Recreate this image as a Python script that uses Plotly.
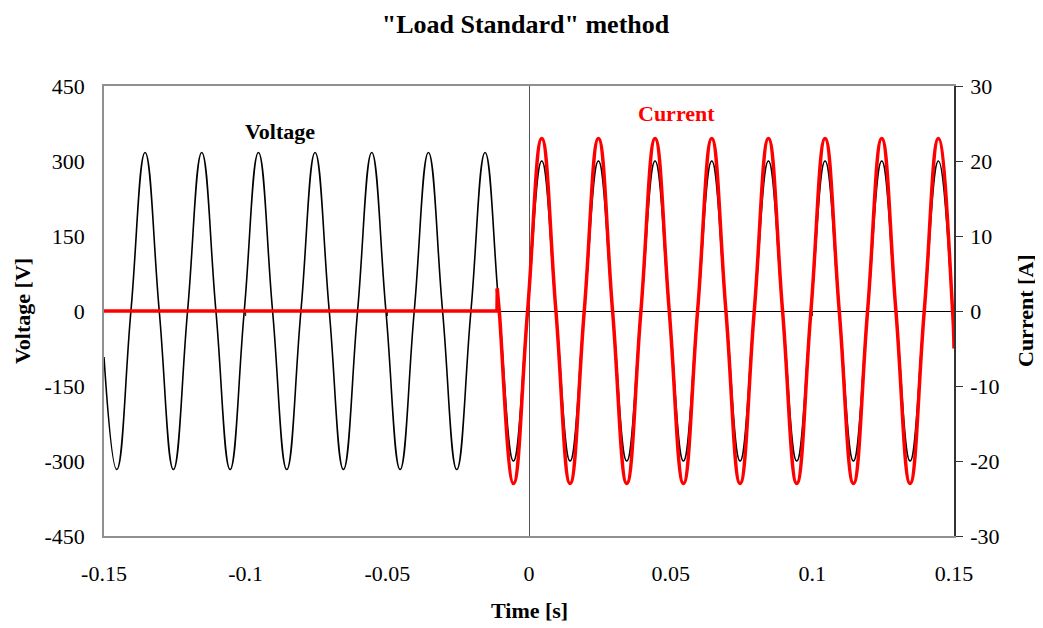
import plotly.graph_objects as go

# ---- data (key points of each waveform) ----
# Voltage [V]: start, then troughs / zero crossings / peaks every quarter period
voltage_t = [-0.15, -0.1455, -0.1405, -0.1355, -0.1305, -0.1255, -0.1205, -0.1155, -0.1105,
             -0.1055, -0.1005, -0.0955, -0.0905, -0.0855, -0.0805, -0.0755, -0.0705,
             -0.0655, -0.0605, -0.0555, -0.0505, -0.0455, -0.0405, -0.0355, -0.0305,
             -0.0255, -0.0205, -0.0155, -0.0105, -0.0055, -0.0005, 0.0045, 0.0095,
             0.0145, 0.0195, 0.0245, 0.0295, 0.0345, 0.0395, 0.0445, 0.0495,
             0.0545, 0.0595, 0.0645, 0.0695, 0.0745, 0.0795, 0.0845, 0.0895,
             0.0945, 0.0995, 0.1045, 0.1095, 0.1145, 0.1195, 0.1245, 0.1295,
             0.1345, 0.1395, 0.1445, 0.1495, 0.15]
voltage_v = [-92, -317, 0, 317, 0, -317, 0, 317, 0,
             -317, 0, 317, 0, -317, 0, 317, 0,
             -317, 0, 317, 0, -317, 0, 317, 0,
             -317, 0, 317, 0, -300, 0, 300, 0,
             -300, 0, 300, 0, -300, 0, 300, 0,
             -300, 0, 300, 0, -300, 0, 300, 0,
             -300, 0, 300, 0, -300, 0, 300, 0,
             -300, 0, 300, 0, -55]

# Current [A]: off period (with switch-on spike), then the on period
current_off_t = [-0.15, -0.0113, -0.0112]
current_off_a = [0, 0, 3]
current_on_t = [-0.0112, -0.0105, -0.0055, -0.0005, 0.0045, 0.0095,
                0.0145, 0.0195, 0.0245, 0.0295, 0.0345, 0.0395, 0.0445, 0.0495,
                0.0545, 0.0595, 0.0645, 0.0695, 0.0745, 0.0795, 0.0845, 0.0895,
                0.0945, 0.0995, 0.1045, 0.1095, 0.1145, 0.1195, 0.1245, 0.1295,
                0.1345, 0.1395, 0.1445, 0.1495, 0.15]
current_on_a = [3, 0, -23, 0, 23, 0,
                -23, 0, 23, 0, -23, 0, 23, 0,
                -23, 0, 23, 0, -23, 0, 23, 0,
                -23, 0, 23, 0, -23, 0, 23, 0,
                -23, 0, 23, 0, -5]

x_ticks = [-0.15, -0.1, -0.05, 0, 0.05, 0.1, 0.15]
x_tick_text = ["-0.15", "-0.1", "-0.05", "0", "0.05", "0.1", "0.15"]
v_ticks = [-450, -300, -150, 0, 150, 300, 450]
v_tick_text = ["-450", "-300", "-150", "0", "150", "300", "450"]
a_ticks = [-30, -20, -10, 0, 10, 20, 30]
a_tick_text = ["-30", "-20", "-10", "0", "10", "20", "30"]

FONT = "Liberation Serif, Times New Roman, serif"

fig = go.Figure()
fig.add_trace(go.Scatter(x=voltage_t, y=voltage_v, mode="lines",
                         line=dict(color="black", width=1.6, shape="spline", smoothing=1.3),
                         name="Voltage", showlegend=False, yaxis="y"))
fig.add_trace(go.Scatter(x=current_off_t, y=current_off_a, mode="lines",
                         line=dict(color="#ff0000", width=3.5),
                         name="Current", showlegend=False, yaxis="y2"))
fig.add_trace(go.Scatter(x=current_on_t, y=current_on_a, mode="lines",
                         line=dict(color="#ff0000", width=3.5, shape="spline", smoothing=1.3),
                         name="Current", showlegend=False, yaxis="y2"))

# small tick marks of the time axis drawn where it crosses V = 0
shapes = []
for t in x_ticks[1:-1]:
    shapes.append(dict(type="line", xref="x", yref="y", x0=t, x1=t, y0=0, y1=-10,
                       line=dict(color="black", width=1), layer="below"))

# the page adds an 8 px body margin, so the figure is offset by 8 px
fig.update_layout(
    width=1035, height=620,
    margin=dict(l=96, r=89, t=78, b=92, autoexpand=False),
    paper_bgcolor="white", plot_bgcolor="white",
    font=dict(family=FONT, size=22, color="black"),
    title=dict(text='<b>"Load Standard" method</b>', x=0.5, xanchor="center",
               y=1 - 16 / 620, yanchor="middle",
               font=dict(family=FONT, size=26, color="black")),
    xaxis=dict(range=[-0.15, 0.15], tickvals=x_ticks, ticktext=x_tick_text,
               showgrid=False, zeroline=True, zerolinecolor="#555555", zerolinewidth=1,
               showline=True, linecolor="#909090", linewidth=1.5, mirror=True,
               ticks="", ticklabelstandoff=17, automargin=False),
    yaxis=dict(range=[-450, 450], tickvals=v_ticks, ticktext=v_tick_text, showgrid=False,
               zeroline=True, zerolinecolor="black", zerolinewidth=1,
               showline=True, linecolor="#909090", linewidth=1.5,
               ticks="", ticklabelstandoff=13, automargin=False),
    yaxis2=dict(range=[-30, 30], tickvals=a_ticks, ticktext=a_tick_text,
                overlaying="y", side="right",
                showgrid=False, zeroline=False, showline=True, linecolor="#333333",
                linewidth=1.5, ticks="outside", ticklen=7, tickcolor="#333333",
                ticklabelstandoff=3, automargin=False),
    shapes=shapes,
    annotations=[
        dict(x=-0.0879, y=360, xref="x", yref="y", text="<b>Voltage</b>", showarrow=False,
             font=dict(family=FONT, size=22, color="black")),
        dict(x=0.0519, y=396, xref="x", yref="y", text="<b>Current</b>", showarrow=False,
             font=dict(family=FONT, size=22, color="#ff0000")),
        dict(x=0.5, y=0, xref="paper", yref="paper", yshift=-74, text="<b>Time [s]</b>",
             showarrow=False, xanchor="center", yanchor="middle",
             font=dict(family=FONT, size=22, color="black")),
        dict(x=0, y=0.5, xref="paper", yref="paper", xshift=-82, text="<b>Voltage [V]</b>",
             showarrow=False, textangle=-90, xanchor="center", yanchor="middle",
             font=dict(family=FONT, size=22, color="black")),
        dict(x=1, y=0.5, xref="paper", yref="paper", xshift=71, text="<b>Current [A]</b>",
             showarrow=False, textangle=-90, xanchor="center", yanchor="middle",
             font=dict(family=FONT, size=22, color="black")),
    ],
)

fig.write_html("out.html")
